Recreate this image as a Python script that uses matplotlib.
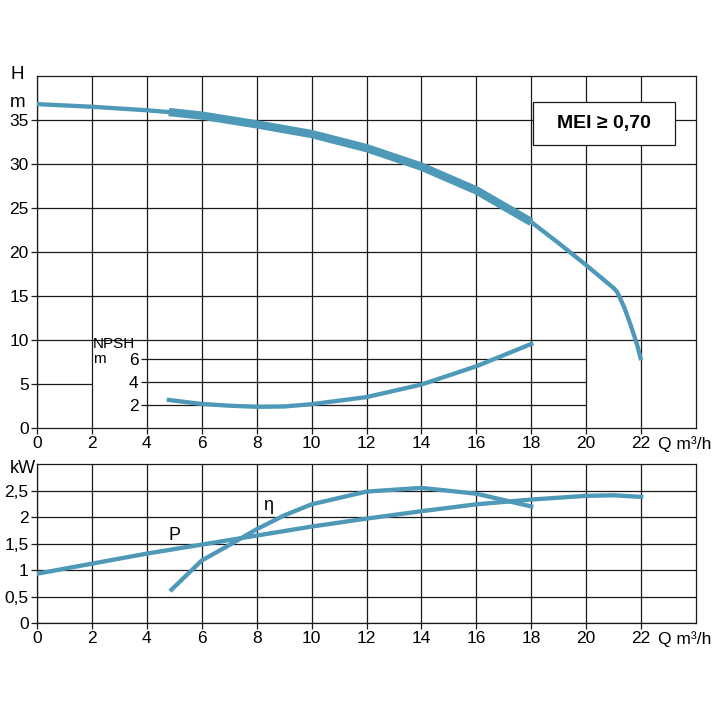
import matplotlib.pyplot as plt
from matplotlib.patches import Rectangle
from matplotlib.transforms import offset_copy

plt.rcParams['font.family'] = ['Liberation Sans', 'DejaVu Sans']
plt.rcParams['font.size'] = 12.5

blue = '#4e98b8'

# head curve H (m), thin + thick (operating range) part
q_h = [0, 2, 4, 4.8, 6, 8, 10, 12, 14, 16, 18, 19, 20, 21, 21.13, 21.4, 21.64, 21.85, 22]
h = [36.8, 36.5, 36.1, 35.9, 35.5, 34.5, 33.4, 31.8, 29.7, 27.0, 23.4, 21.0, 18.5, 15.9, 15.45, 13.6, 11.5, 9.5, 7.7]
q_thick = [4.8, 6, 8, 10, 12, 14, 16, 18]
h_thick = [35.9, 35.5, 34.5, 33.4, 31.8, 29.7, 27.0, 23.4]

# NPSH (m)
q_npsh = [4.8, 6, 7, 8, 9, 10, 12, 14, 16, 18]
npsh = [2.45, 2.1, 1.95, 1.85, 1.88, 2.08, 2.7, 3.8, 5.4, 7.35]

# power P (kW)
q_p = [0, 2, 4, 6, 8, 10, 12, 14, 16, 18, 20, 21, 22]
p = [0.93, 1.12, 1.31, 1.48, 1.65, 1.82, 1.97, 2.11, 2.24, 2.33, 2.4, 2.41, 2.38]

# efficiency eta (drawn on kW scale)
q_eta = [4.9, 6, 7, 8, 9, 10, 12, 14, 16, 18]
eta = [0.63, 1.18, 1.47, 1.77, 2.03, 2.24, 2.48, 2.55, 2.44, 2.2]

x_ticks = list(range(0, 23, 2))
h_ticks = [0, 5, 10, 15, 20, 25, 30, 35]
npsh_ticks = [2, 4, 6]
kw_ticks = [0, 0.5, 1, 1.5, 2, 2.5]
kw_labels = ['0', '0,5', '1', '1,5', '2', '2,5']

fig = plt.figure(figsize=(7.2, 7.2), dpi=100)
ax = fig.add_axes([0.0514, 0.4056, 0.9153, 0.4889])
bx = fig.add_axes([0.0514, 0.1347, 0.9153, 0.2208])

gc = '#1a1a1a'
glw = 0.9
tlen, tpad = 4, 2

# ---------------- top chart ----------------
ax.set_xlim(0, 24)
ax.set_ylim(0, 40)
ax.set_xticks(x_ticks)
ax.set_yticks(h_ticks)
ax.tick_params(direction='out', length=tlen, width=glw, color=gc, pad=tpad)
for s in ax.spines.values():
    s.set_color(gc)
    s.set_linewidth(glw)
ax.grid(axis='x', color=gc, lw=glw)
ax.hlines(h_ticks[2:], 0, 24, color=gc, lw=glw, zorder=0.5)
ax.hlines([5], 0, 2, color=gc, lw=glw, zorder=0.5)
ax.set_axisbelow(True)

ax.plot(q_h, h, color=blue, lw=3.1, solid_capstyle='butt', zorder=3)
ax.plot(q_thick, h_thick, color=blue, lw=6.0, solid_capstyle='butt', zorder=3)

ax.text(-0.03, 1.003, 'H', transform=ax.transAxes, ha='center', va='center', fontsize=13.5)
ax.text(-0.03, 0.926, 'm', transform=ax.transAxes, ha='center', va='center', fontsize=13.5)
ax.text(22.6, 0, 'Q m³/h', ha='left', va='top',
        transform=offset_copy(ax.get_xaxis_transform(), fig=fig, y=-(tlen + tpad), units='points'))

ax.text(2.03, 8.7, 'NPSH', ha='left', va='bottom', fontsize=11)
ax.text(2.03, 8.6, 'm', ha='left', va='top', fontsize=11)

ax.add_patch(Rectangle((18.05, 32.2), 5.2, 4.8, facecolor='white', edgecolor=gc, lw=glw, zorder=4))
ax.text(20.65, 34.6, 'MEI ≥ 0,70', ha='center', va='center', fontsize=14, fontweight='bold', zorder=5)

# NPSH scale inside the top chart
ax2 = ax.twinx()
ax2.set_ylim(0, 30.8)
for s in ax2.spines.values():
    s.set_visible(False)
ax2.yaxis.set_ticks_position('left')
ax2.spines['left'].set_position(('data', 4))
ax2.set_yticks(npsh_ticks)
ax2.tick_params(direction='out', length=tlen, width=glw, color=gc, pad=tpad)
ax2.hlines(npsh_ticks, 4, 20, color=gc, lw=glw, zorder=0.5)
ax2.plot(q_npsh, npsh, color=blue, lw=3.1, zorder=3)

# ---------------- bottom chart ----------------
bx.set_xlim(0, 24)
bx.set_ylim(0, 3)
bx.set_xticks(x_ticks)
bx.set_yticks(kw_ticks)
bx.set_yticklabels(kw_labels)
bx.tick_params(direction='out', length=tlen, width=glw, color=gc, pad=tpad)
for s in bx.spines.values():
    s.set_color(gc)
    s.set_linewidth(glw)
bx.grid(color=gc, lw=glw)
bx.set_axisbelow(True)

bx.plot(q_p, p, color=blue, lw=3.1, zorder=3)
bx.plot(q_eta, eta, color=blue, lw=3.1, zorder=3)
bx.text(5.0, 1.66, 'P', ha='center', va='center', fontsize=13)
bx.text(8.4, 2.22, 'η', ha='center', va='center', fontsize=13)
bx.text(-0.021, 0.97, 'kW', transform=bx.transAxes, ha='center', va='center', fontsize=13)
bx.text(22.6, 0, 'Q m³/h', ha='left', va='top',
        transform=offset_copy(bx.get_xaxis_transform(), fig=fig, y=-(tlen + tpad), units='points'))

fig.savefig('out.png', dpi=100)
